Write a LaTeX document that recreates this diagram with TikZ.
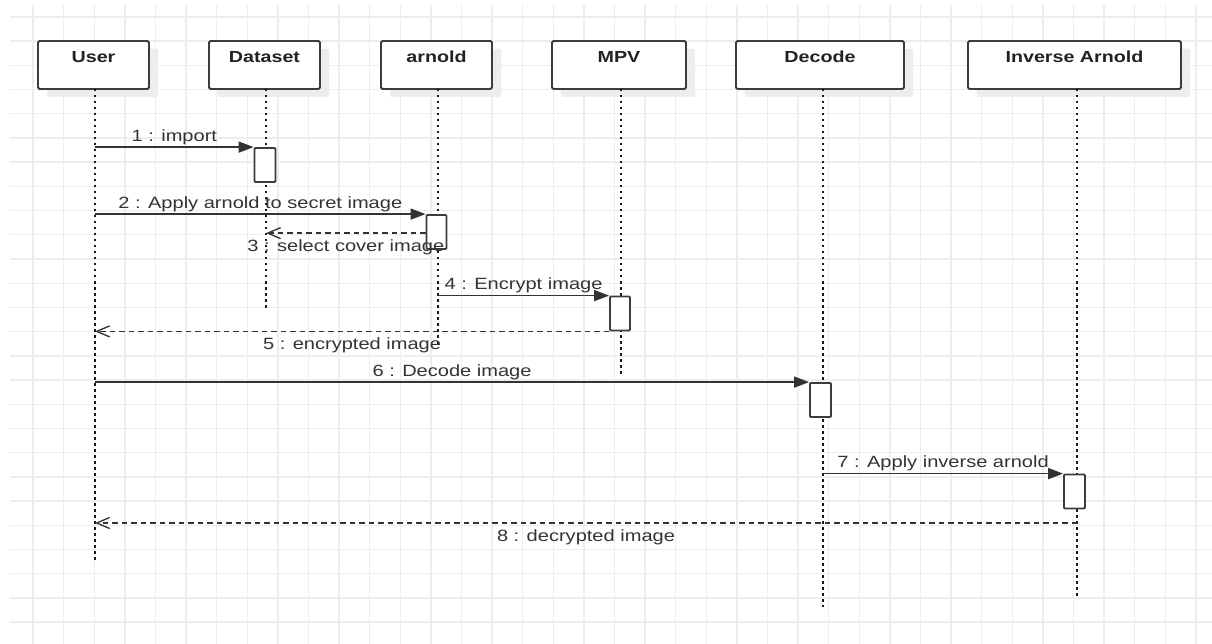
\documentclass[tikz,border=0pt]{standalone}
\usepackage{fontspec}
\setmainfont{Liberation Sans}[FakeStretch=1.23]
\usetikzlibrary{arrows.meta,shadows}
\definecolor{gridc}{HTML}{EDEDED}
\definecolor{boxc}{HTML}{3C3C3C}
\definecolor{msgc}{HTML}{333333}
\definecolor{txtc}{HTML}{333333}
\definecolor{hdrtc}{HTML}{222222}
\begin{document}
\begin{tikzpicture}[x=1pt,y=-1pt,
  gridline/.style={draw=gridc,line width=1.4pt},
  hdr/.style={draw=boxc,fill=white,line width=1.8pt,rounded corners=1.5pt,
    minimum height=48pt,inner sep=0pt,
    general shadow={fill=black!7,shadow xshift=9pt,shadow yshift=-8pt}},
  hdrtxt/.style={anchor=base,inner sep=0pt,text=hdrtc,font=\fontsize{16}{19}\selectfont\bfseries},
  life/.style={draw=black!90,line width=2.2pt,dash pattern=on 2.5pt off 3.5pt},
  act/.style={draw=boxc,fill=white,line width=1.8pt,rounded corners=1pt,minimum height=34pt,inner sep=0pt},
  msg/.style={draw=msgc,line width=1.7pt,-{Triangle[length=15pt,width=11pt]}},
  ret/.style={draw=msgc,line width=1.7pt,dash pattern=on 5.5pt off 4pt,
    -{Straight Barb[length=13pt,width=11pt,line width=1.3pt]}},
  lblup/.style={midway,anchor=base,yshift=6pt,inner sep=0pt,text=txtc,font=\fontsize{16.3}{19}\selectfont},
  lbldn/.style={midway,anchor=base,yshift=-18pt,inner sep=0pt,text=txtc,font=\fontsize{16.3}{19}\selectfont}
]
\useasboundingbox (0,0) rectangle (1212,644);
\fill[white] (0,0) rectangle (1212,644);
% grid
\foreach \k in {0,...,25} \draw[gridline] (10,{17+24.2*\k}) -- (1212,{17+24.2*\k});
\foreach \k in {0,...,38} \draw[gridline] ({33+30.6*\k},5) -- ({33+30.6*\k},644);

% headers
\node[hdr,minimum width=111pt] (user) at (93.5,65) {};
\node[hdr,minimum width=111pt] (dataset) at (264.5,65) {};
\node[hdr,minimum width=111pt] (arnold) at (436.5,65) {};
\node[hdr,minimum width=134pt] (mpv) at (619,65) {};
\node[hdr,minimum width=168pt] (decode) at (820,65) {};
\node[hdr,minimum width=213pt] (inv) at (1074.5,65) {};
\node[hdrtxt] (userT) at (93.5,62.5) {User};
\node[hdrtxt] (datasetT) at (264.5,62.5) {Dataset};
\node[hdrtxt] (arnoldT) at (436.5,62.5) {arnold};
\node[hdrtxt] (mpvT) at (619,62.5) {MPV};
\node[hdrtxt] (decodeT) at (820,62.5) {Decode};
\node[hdrtxt] (invT) at (1074.5,62.5) {Inverse Arnold};

% lifeline tops and ends
\coordinate (Lu) at (95,89);   \coordinate (Eu) at (95,561);
\coordinate (Ld) at (266,89);  \coordinate (Ed) at (266,308);
\coordinate (La) at (438,89);  \coordinate (Ea) at (438,345);
\coordinate (Lm) at (621,89);  \coordinate (Em) at (621,375);
\coordinate (Lc) at (823,89);  \coordinate (Ec) at (823,607);
\coordinate (Li) at (1077,89); \coordinate (Ei) at (1077,598);
\draw[life] (Lu) -- (Eu);
\draw[life] (Ld) -- (Ed);
\draw[life] (La) -- (Ea);
\draw[life] (Lm) -- (Em);
\draw[life] (Lc) -- (Ec);
\draw[life] (Li) -- (Ei);

% activations
\node[act,minimum width=21pt] (a1) at (265,165) {};
\node[act,minimum width=20pt] (a2) at (436.5,232) {};
\node[act,minimum width=20pt] (a3) at (620,313.5) {};
\node[act,minimum width=21pt] (a4) at (820.5,400) {};
\node[act,minimum width=21pt] (a5) at (1074.5,491.5) {};

% messages
\draw[msg] (Lu |- a1.north west) -- (a1.north west) node[lblup] {1 : import};
\draw[msg] (Lu |- a2.north west) -- (a2.north west) node[lblup] {2 : Apply arnold to secret image};
\coordinate (r3) at ([yshift=-19pt]a2.north west);
\draw[ret] (r3) -- (Ld |- r3) node[lbldn] {3 : select cover image};
\draw[msg] (La |- a3.north west) -- (a3.north west) node[lblup] {4 : Encrypt image};
\draw[ret] (a3.south west) -- (Lu |- a3.south west) node[lbldn] {5 : encrypted image};
\draw[msg] (Lu |- a4.north west) -- (a4.north west) node[lblup] {6 : Decode image};
\draw[msg] (Lc |- a5.north west) -- (a5.north west) node[lblup] {7 : Apply inverse arnold};
\coordinate (r8) at (1077,523);
\draw[ret] (r8) -- (Lu |- r8) node[lbldn] {8 : decrypted image};
\end{tikzpicture}
\end{document}
